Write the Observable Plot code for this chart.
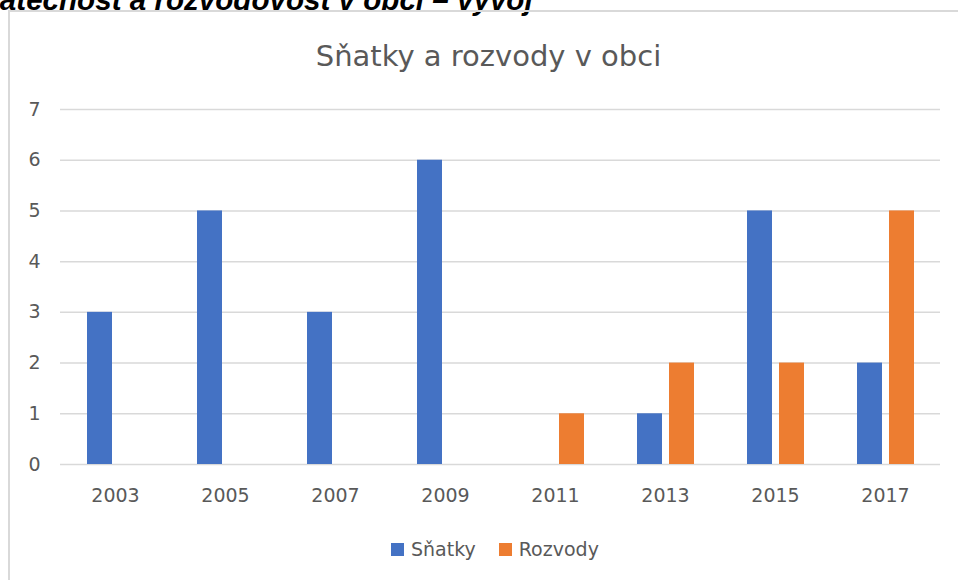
<!DOCTYPE html>
<html>
<head>
<meta charset="utf-8">
<script src="https://cdn.jsdelivr.net/npm/d3@7"></script>
<script src="https://cdn.jsdelivr.net/npm/@observablehq/plot@0.6"></script>
<style>
  html, body { margin: 0; padding: 0; background: #fff; }
  #wrap { position: relative; width: 958px; height: 580px; overflow: hidden; background: #fff; }
  #heading { position: absolute; left: -38px; top: -15px; font: italic bold 29.6px/29px "Liberation Sans", Arial, sans-serif; color: #000; white-space: nowrap; }
  #frame { position: absolute; left: 8px; top: 10px; width: 1000px; height: 1000px; border: 2px solid #d9d9d9; box-sizing: border-box; }
  #title { position: absolute; left: 0; width: 977px; top: 42px; text-align: center; font: 29px/29px "DejaVu Sans", sans-serif; color: #595959; white-space: nowrap; }
  #chart { position: absolute; left: 0; top: 0; }
  #legend { position: absolute; left: 391px; top: 540px; display: flex; align-items: center; font: 19px/19px "DejaVu Sans", sans-serif; color: #595959; white-space: nowrap; }
  .sw { display: inline-block; width: 13px; height: 13px; margin-right: 7px; }
  .item { display: flex; align-items: center; margin-right: 23px; }
</style>
</head>
<body>
<div id="wrap">
  <div id="heading">Sňatečnost a rozvodovost v obci – vývoj</div>
  <div id="frame"></div>
  <div id="chart"></div>
  <div id="title">Sňatky a rozvody v obci</div>
  <div id="legend"></div>
</div>
<script>
const years = ["2003", "2005", "2007", "2009", "2011", "2013", "2015", "2017"];
const seriesNames = ["Sňatky", "Rozvody"];
const snatky = [3, 5, 3, 6, 0, 1, 5, 2];
const rozvody = [0, 0, 0, 0, 1, 2, 2, 5];
const yTicks = [0, 1, 2, 3, 4, 5, 6, 7];
const colors = ["#4472C4", "#ED7D31"];

const data = [];
years.forEach((y, i) => {
  data.push({year: y, series: seriesNames[0], value: snatky[i]});
  data.push({year: y, series: seriesNames[1], value: rozvody[i]});
});

const chart = Plot.plot({
  width: 958,
  height: 580,
  marginLeft: 60,
  marginRight: 18,
  marginTop: 109,
  marginBottom: 116,
  style: {fontFamily: "DejaVu Sans", fontSize: "19px", color: "#595959", background: "transparent", overflow: "visible"},
  fx: {domain: years, padding: 0, tickSize: 0, tickPadding: 24, label: null},
  x: {domain: seriesNames, paddingInner: 0.21875, paddingOuter: 0.828, axis: null},
  y: {domain: [0, 7], ticks: yTicks, tickFormat: d3.format("d"), tickSize: 0, tickPadding: 20, label: null},
  color: {domain: seriesNames, range: colors},
  marks: [
    Plot.ruleY(yTicks, {stroke: "#d9d9d9", strokeWidth: 1.5}),
    Plot.barY(data, {fx: "year", x: "series", y: "value", fill: "series"})
  ]
});
document.getElementById("chart").appendChild(chart);

const legend = document.getElementById("legend");
seriesNames.forEach((s, i) => {
  const item = document.createElement("div");
  item.className = "item";
  const sw = document.createElement("span");
  sw.className = "sw";
  sw.style.background = colors[i];
  item.appendChild(sw);
  item.appendChild(document.createTextNode(s));
  legend.appendChild(item);
});
</script>
</body>
</html>
